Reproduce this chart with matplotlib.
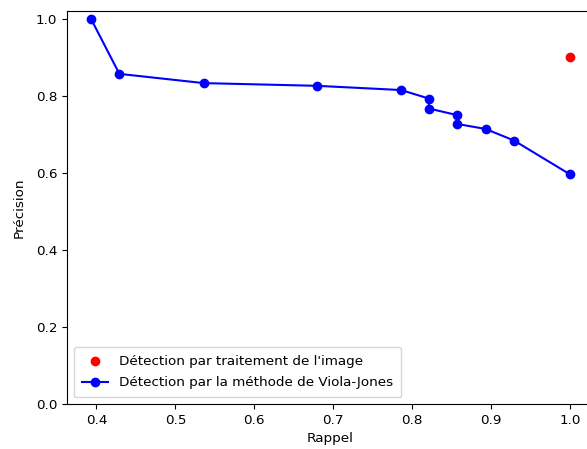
import matplotlib
matplotlib.use("Agg")
import matplotlib.pyplot as plt

plt.rcParams['font.size'] = 9.7

# Précision / rappel pour la méthode de Viola-Jones (différents seuils)
rappel_vj = [0.393, 0.429, 0.536, 0.679, 0.786, 0.821, 0.821, 0.857, 0.857, 0.893, 0.929, 1.0]
precision_vj = [1.0, 0.857, 0.833, 0.826, 0.815, 0.793, 0.767, 0.750, 0.727, 0.714, 0.684, 0.596]

# Détection par traitement de l'image
rappel_ti = [1.0]
precision_ti = [0.9]

fig = plt.figure(figsize=(5.87, 4.49), dpi=100)
ax = fig.add_axes([67 / 587, 45 / 449, 527 / 587, 393 / 449])

ax.scatter(rappel_ti, precision_ti, color='red', label="Détection par traitement de l'image")
ax.plot(rappel_vj, precision_vj, color='blue', marker='o', label='Détection par la méthode de Viola-Jones')
ax.set_ylim(bottom=0)
ax.set_xlabel('Rappel')
ax.set_ylabel('Précision', labelpad=7)
ax.legend(loc='lower left', labelspacing=0.65, borderpad=0.58)

fig.savefig('out.png', dpi=100)
